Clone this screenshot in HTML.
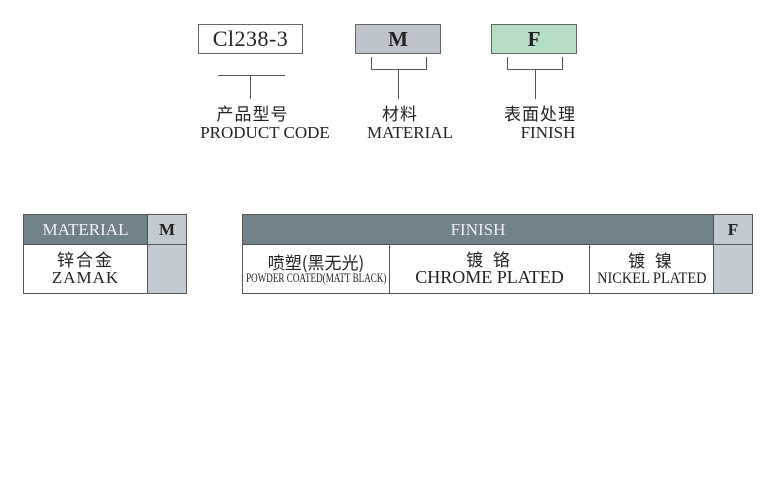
<!DOCTYPE html>
<html><head><meta charset="utf-8"><style>
body{margin:0;width:778px;height:500px;background:#fff;position:relative;overflow:hidden;font-family:"Liberation Serif","Noto Serif CJK SC",serif;color:#222}
.a{position:absolute;box-sizing:border-box}
.c{display:flex;align-items:center;justify-content:center;text-align:center}
.ln{position:absolute;background:#555}
.hd{background:#6f8189;color:#eef;border:1px solid #555}
.lt{background:#c3cbd2;border:1px solid #555}
.wb{background:#fff;border:1px solid #555}
.t{position:absolute;text-align:center;line-height:1;white-space:nowrap}
.zh{font-family:"Noto Sans CJK SC",sans-serif;font-weight:400}
</style></head><body>
<div class="a c" style="left:198px;top:24px;width:105px;height:30px;border:1px solid #666;font-size:22px;letter-spacing:0.5px">Cl238-3</div>
<div class="a c" style="left:355px;top:24px;width:86px;height:30px;border:1px solid #666;background:#bcc3cb;font-size:21px;font-weight:bold">M</div>
<div class="a c" style="left:491px;top:24px;width:86px;height:30px;border:1px solid #666;background:#b5dfc4;font-size:21px;font-weight:bold">F</div>
<div class="ln" style="left:218px;top:75px;width:67px;height:1px"></div>
<div class="ln" style="left:250px;top:75px;width:1px;height:24px"></div>
<div class="ln" style="left:371px;top:57px;width:1px;height:13px"></div>
<div class="ln" style="left:426px;top:57px;width:1px;height:13px"></div>
<div class="ln" style="left:371px;top:69px;width:56px;height:1px"></div>
<div class="ln" style="left:398px;top:69px;width:1px;height:30px"></div>
<div class="ln" style="left:507px;top:57px;width:1px;height:13px"></div>
<div class="ln" style="left:562px;top:57px;width:1px;height:13px"></div>
<div class="ln" style="left:507px;top:69px;width:56px;height:1px"></div>
<div class="ln" style="left:535px;top:69px;width:1px;height:30px"></div>
<div class="t zh" style="left:190px;width:125px;top:104px;font-size:17px;letter-spacing:1px">产品型号</div>
<div class="t" style="left:185px;width:160px;top:124px;font-size:17px">PRODUCT CODE</div>
<div class="t zh" style="left:360px;width:80px;top:104px;font-size:17px;letter-spacing:1px">材料</div>
<div class="t" style="left:345px;width:130px;top:124px;font-size:17px">MATERIAL</div>
<div class="t zh" style="left:490px;width:100px;top:104px;font-size:17px;letter-spacing:1px">表面处理</div>
<div class="t" style="left:503px;width:90px;top:124px;font-size:17px">FINISH</div>
<div class="a c hd" style="left:23px;top:214px;width:125px;height:31px;font-size:17px">MATERIAL</div>
<div class="a c lt" style="left:147px;top:214px;width:40px;height:31px;font-size:17px;font-weight:bold;color:#222">M</div>
<div class="a c wb" style="left:23px;top:244px;width:125px;height:50px;flex-direction:column;line-height:1.1"><div class="zh" style="font-size:17px;letter-spacing:2px">锌合金</div><div style="font-size:17px;letter-spacing:1px">ZAMAK</div></div>
<div class="a lt" style="left:147px;top:244px;width:40px;height:50px"></div>
<div class="a c hd" style="left:242px;top:214px;width:472px;height:31px;font-size:17px">FINISH</div>
<div class="a c lt" style="left:713px;top:214px;width:40px;height:31px;font-size:17px;font-weight:bold;color:#222">F</div>
<div class="a c wb" style="left:242px;top:244px;width:148px;height:50px;flex-direction:column;line-height:1.1"><div class="zh" style="font-size:17px">喷塑(黑无光)</div><div style="font-size:13px;white-space:nowrap;transform:scaleX(0.7)">POWDER COATED(MATT BLACK)</div></div>
<div class="a c wb" style="left:389px;top:244px;width:201px;height:50px;flex-direction:column;line-height:1.1"><div class="zh" style="font-size:17px;letter-spacing:3px">镀 铬</div><div style="font-size:18px">CHROME PLATED</div></div>
<div class="a c wb" style="left:589px;top:244px;width:125px;height:50px;flex-direction:column;line-height:1.1"><div class="zh" style="font-size:17px;letter-spacing:3px">镀 镍</div><div style="font-size:16px;white-space:nowrap;transform:scaleX(0.9)">NICKEL PLATED</div></div>
<div class="a lt" style="left:713px;top:244px;width:40px;height:50px"></div>
</body></html>
